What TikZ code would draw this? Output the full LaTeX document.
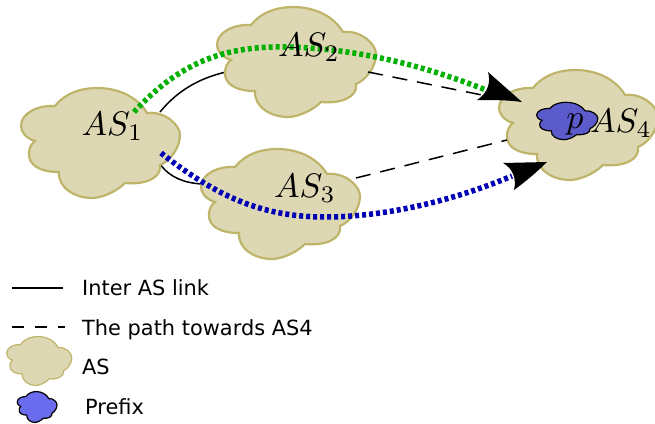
\documentclass[tikz,border=0pt]{standalone}
\usepackage{fontspec}
\setsansfont{DejaVu Sans}
\definecolor{asfill}{HTML}{DDD8B3}
\definecolor{asline}{HTML}{BFB56A}
\definecolor{pfxA}{HTML}{5B5BCB}
\definecolor{pfxB}{HTML}{6B6BEE}
\definecolor{grn}{HTML}{00B000}
\definecolor{blu}{HTML}{0000B4}
\newcommand{\cloudshape}{(-45,-37) .. controls (-33,-52) and (-15,-55) .. (-3,-55) .. controls (20,-55) and (38,-45) .. (47,-30) .. controls (65,-32) and (80,-18) .. (80,-8) .. controls (80,5) and (70,18) .. (60,22) .. controls (62,35) and (45,42) .. (25,40) .. controls (15,50) and (0,55) .. (-8,55) .. controls (-25,55) and (-42,45) .. (-41,29) .. controls (-60,29) and (-72,22) .. (-71,10) .. controls (-71,5) and (-68,0) .. (-65,-2) .. controls (-75,-5) and (-79,-12) .. (-79,-17) .. controls (-79,-30) and (-62,-38) .. (-45,-37) -- cycle}
\newcommand{\ascloud}[3][asline]{\begin{scope}[shift={(#2)},xscale=#3,yscale=#3]\path[draw=#1,fill=asfill,line width=2.2pt] \cloudshape;\end{scope}}
\tikzset{
  mathlab/.style={inner sep=0pt,scale=3.4},
  leglab/.style={inner sep=0pt,anchor=base west,font=\sffamily\fontsize{20.9}{25}\selectfont},
  link/.style={black,line width=1.5pt},
  dlink/.style={black,line width=1.5pt,dash pattern=on 15pt off 10pt},
  bgp/.style={line width=5.5pt,dash pattern=on 4pt off 3pt},
  head/.style={fill=black,draw=none}
}
\begin{document}
\begin{tikzpicture}[x=1pt,y=-1pt]
\useasboundingbox (0,0) rectangle (655,423);
% connector ends
\coordinate (s1a) at (160,112);
\coordinate (s1b) at (226,72);
\coordinate (s2a) at (160,164);
\coordinate (s2b) at (202,184);
\coordinate (d1a) at (368,72);
\coordinate (d1b) at (482,95);
\coordinate (d2a) at (356,178);
\coordinate (d2b) at (507,140);
\coordinate (g0) at (134,112);
\coordinate (g1) at (486,90);
\coordinate (b0) at (161,153);
\coordinate (b1) at (512,176);
% under-cloud links
\draw[link] (s1a) .. controls (178,90) and (200,78) .. (s1b);
\draw[link] (s2a) .. controls (170,178) and (185,183) .. (s2b);
% clouds
\ascloud{100,143}{1}
\ascloud{296,62}{1}
\ascloud{280,204}{1}
\ascloud{578,125}{1}
\draw[dlink] (d1a) -- (d1b);
\draw[dlink] (d2a) -- (d2b);
% prefix
\begin{scope}[shift={(567,121)},xscale=.385,yscale=.34]
\path[draw=black,fill=pfxA,line width=1.2pt] \cloudshape;
\end{scope}
% coloured paths
\draw[bgp,grn] (g0) .. controls (180,62) and (225,46) .. (285,47) .. controls (360,48) and (430,68) .. (g1);
\draw[bgp,blu] (b0) .. controls (215,195) and (260,217) .. (325,217) .. controls (390,217) and (460,198) .. (b1);
% arrow heads
\path[head] (522,102) -- (488,72) .. controls (491,82) and (488,93) .. (477,100) .. controls (492,100) and (508,100) .. cycle;
\path[head] (547,162) -- (503,163) .. controls (512,168) and (517,178) .. (514,190) .. controls (525,182) and (537,172) .. cycle;
% labels
\node[mathlab] (as1) at (112.5,126) {$AS_1$};
\node[mathlab] (as2) at (309,47) {$AS_2$};
\node[mathlab] (as3) at (305,188) {$AS_3$};
\node[mathlab] (as4) at (621,123) {$AS_4$};
\node[mathlab] (pf) at (575,124) {$p$};
% legend
\coordinate (l1a) at (12,288);
\coordinate (l1b) at (63,288);
\coordinate (l2a) at (12,327);
\coordinate (l2b) at (65,327);
\draw[link] (l1a) -- (l1b);
\draw[black,line width=1.5pt,dash pattern=on 12pt off 11pt] (l2a) -- (l2b);
\begin{scope}[shift={(39,361)},xscale=.41,yscale=.445]
\path[draw=asline,fill=asfill,line width=1.2pt] \cloudshape;
\end{scope}
\begin{scope}[shift={(37,407)},xscale=.25,yscale=.28]
\path[draw=black,fill=pfxB,line width=1.2pt] \cloudshape;
\end{scope}
\node[leglab] (t1) at (82,295) {Inter AS link};
\node[leglab] (t2) at (82,335) {The path towards AS4};
\node[leglab] (t3) at (82,374) {AS};
\node[leglab] (t4) at (85,414) {Prefix};
\end{tikzpicture}
\end{document}
